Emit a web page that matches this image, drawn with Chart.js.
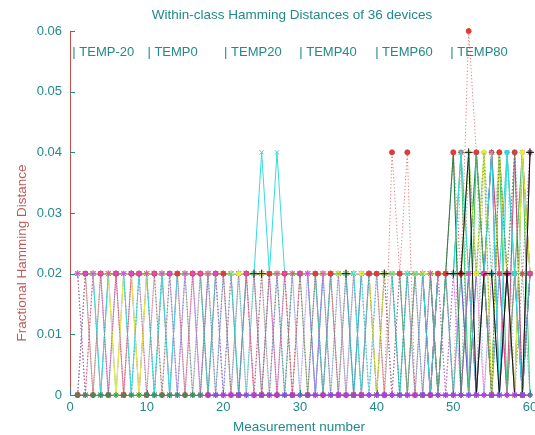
<!DOCTYPE html>
<html><head><meta charset="utf-8">
<script src="https://cdn.jsdelivr.net/npm/chart.js@4.4.1/dist/chart.umd.min.js"></script>
<style>html,body{margin:0;padding:0;background:#fff;}#wrap{width:535px;height:435px;position:relative;}</style>
</head><body><div id="wrap"><canvas id="c" width="535" height="435"></canvas></div>
<script>
const titleText = 'Within-class Hamming Distances of 36 devices';
const xTitle = 'Measurement number';
const yTitle = 'Fractional Hamming Distance';
const measurements = [1,2,3,4,5,6,7,8,9,10,11,12,13,14,15,16,17,18,19,20,21,22,23,24,25,26,27,28,29,30,31,32,33,34,35,36,37,38,39,40,41,42,43,44,45,46,47,48,49,50,51,52,53,54,55,56,57,58,59,60];
const tempLabels = ['| TEMP-20', '| TEMP0', '| TEMP20', '| TEMP40', '| TEMP60', '| TEMP80'];
const tempLabelAt = [0.3, 10.1, 20.1, 29.9, 39.8, 49.6];
const tempLabelY = 0.0565;
// measurements where the black '+' markers are visible
const blackMarked = [24, 25, 36, 41, 50, 51, 52, 55, 57, 60];

const devPu = [.02,.02,.02,.02,.02,.02,.02,.02,.02,.02, .02,.02,.02,.02,.02,.02,.02,0,0,0, 0,0,0,0,0,0,0,0,0,0, 0,0,0,0,0,0,0,0,0,0, 0,0,0,0,0,0,0,0,0,0, 0,0,0,0,0,0,0,0,0,0];
const devG = [0,0,0,0,0,0,0,0,0,0, 0,0,0,0,0,0,0,.02,0,.02, .02,0,.02,.02,0,.02,.02,0,.02,.02, 0,.02,.02,0,.02,.02,0,.02,.02,0, .02,.02,0,.02,.02,0,.02,.02,.02,.04, 0,.04,.02,.04,0,.04,.02,.04,0,.02];
const devK = [.02,.02,.02,.02,.02,.02,.02,.02,.02,.02, .02,.02,.02,.02,.02,.02,.02,.02,.02,.02, .02,.02,.02,.02,.02,.02,.02,.02,.02,.02, .02,.02,.02,.02,.02,.02,.02,.02,.02,.02, .02,.02,.02,.02,.02,.02,.02,.02,.02,.02, .02,.04,0,.02,.02,0,.02,0,0,.04];
const devMg = [.02,.02,.02,.02,.02,.02,.02,.02,.02,.02, .02,.02,.02,0,.02,.02,.02,.02,.02,0, 0,0,.02,0,0,0,.02,.02,.02,.02, .02,0,.02,0,0,0,0,0,0,0, 0,0,0,0,0,0,.02,0,0,0, 0,.02,0,.02,0,0,.02,0,0,.02];
const devC = [0,.02,0,.02,0,.02,0,.02,.02,0, .02,0,.02,.02,0,.02,.02,0,.02,.02, 0,0,.02,0,0,.02,0,.02,0,.02, 0,.02,0,.02,0,0,0,0,.02,.02, 0,.04,.02,.04,0,0,0,.02,.02,.04, .02,.06,.04,.02,0,.04,.02,.04,0,.02];
const devA = [.02,.02,.02,0,.02,.02,.02,0,.02,.02, 0,.02,0,.02,.02,.02,.02,0,.02,.02, .02,0,.02,.02,.04,.02,.04,.02,.02,.02, .02,.02,0,.02,.02,.02,.02,0,.02,.02, .02,.02,.02,.02,.02,.02,0,.02,.02,.02, .04,.02,0,.02,.04,0,.04,.02,0,.02];
const devB = [.02,.02,.02,.02,.02,0,.02,.02,0,.02, .02,.02,.02,.02,.02,.02,.02,.02,.02,.02, .02,.02,.02,.02,.02,.02,.02,.02,.02,.02, .02,.02,.02,.02,.02,.02,.02,.02,.02,0, .02,.02,.02,.02,.02,.02,.02,.02,.02,.02, .02,.04,.02,.04,0,.04,.02,0,.04,.02];
const devR3 = [.02,0,.02,0,.02,.02,0,.02,0,.02, 0,.02,0,.02,.02,0,.02,0,.02,.02, 0,.02,.02,0,.02,0,.02,.02,0,.02, .02,.02,0,.02,0,.02,.02,0,.02,0, .02,0,.02,.02,0,.02,.02,0,.02,0, .04,.02,0,.02,.04,.02,.02,0,.02,.04];
const devE = [0,.02,.02,0,.02,0,.02,.02,0,.02, 0,.02,.02,0,.02,0,.02,0,.02,.02, 0,.02,0,.02,.02,0,.02,0,.02,0, .02,.02,0,.02,0,.02,0,.02,0,.02, 0,.02,0,.02,0,.02,.02,0,.02,.02, .04,0,.02,.04,.02,0,.04,.02,0,.04];
const devD = [.02,0,.02,.02,0,.02,0,.02,.02,0, .02,.02,0,.02,0,.02,0,.02,.02,0, .02,0,.02,0,.02,.02,0,.02,0,.02, .02,0,.02,0,.02,.02,0,.02,.02,0, .02,0,.02,0,.02,0,.02,.02,0,.02, 0,.02,0,.02,0,.02,0,.02,0,.02];
const devR2 = [.02,.02,0,.02,.02,0,.02,0,.02,.02, 0,.02,.02,.02,0,.02,0,.02,.02,0, .02,0,.02,.02,0,.02,.02,0,.02,.02, 0,.02,0,.02,.02,0,.02,0,.02,.02, 0,.02,.02,0,.02,.02,0,.02,.02,0, .02,0,.02,.04,0,.02,0,.02,.04,.02];
const devM2 = [0,.02,.02,0,.02,.02,0,.02,0,.02, .02,0,.02,0,.02,.02,0,.02,0,.02, .02,.02,0,.02,0,.02,0,.02,.02,0, .02,0,.02,.02,0,.02,.02,0,.02,0, .02,.02,0,.02,0,.02,.02,0,.02,.02, 0,.02,.02,0,.02,0,.02,.02,0,.02];
const devC2 = [.02,0,.02,.02,0,.02,.02,0,.02,0, .02,.02,0,.02,.02,0,.02,.02,0,.02, 0,.02,.02,0,.02,.02,0,.02,0,.02, .02,0,.02,.02,0,.02,0,.02,.02,0, .02,0,.02,.02,0,.02,0,.02,0,.02, .02,.02,.04,0,.02,.04,0,.04,.02,0];
const devY2 = [.02,.02,0,.02,.02,.02,0,.02,.02,.02, .02,0,.02,.02,.02,.02,.02,0,.02,.02, .02,.02,.02,0,.02,.02,.02,.02,0,.02, .02,.02,.02,.02,0,.02,.02,.02,.02,.02, 0,.02,.02,.02,.02,.02,0,.02,.02,.02, .02,.02,0,.04,.02,.04,.02,0,.04,.02];
const devGN = [.02,.02,.02,.02,.02,.02,.02,.02,.02,.02, .02,.02,.02,.02,.02,.02,.02,.02,.02,.02, .02,.02,.02,.02,.02,.02,.02,.02,.02,.02, .02,.02,.02,.02,.02,.02,.02,.02,.02,.02, .02,.02,.02,0,.02,.02,.02,0,.02,.02, .04,0,.04,.02,0,.04,0,.02,.04,0];
const devDG = [.02,.02,.02,.02,.02,.02,.02,.02,.02,.02, .02,.02,.02,.02,.02,.02,.02,.02,.02,.02, .02,.02,.02,.02,.02,.02,.02,.02,.02,.02, .02,.02,.02,.02,.02,.02,.02,.02,.02,.02, .02,.02,.02,.02,.02,.02,.02,0,.02,.04, 0,.02,.04,.02,0,.04,.02,0,.04,.02];
const devBl = [.02,.02,.02,.02,.02,.02,.02,.02,.02,.02, .02,.02,.02,.02,.02,.02,.02,.02,.02,.02, .02,.02,.02,.02,.02,.02,.02,.02,.02,.02, .02,.02,.02,.02,.02,.02,.02,.02,.02,.02, .02,.02,.02,.02,.02,.02,0,.02,.02,.02, .02,0,.02,.02,.04,0,.02,.02,0,.02];
const devPK = [.02,.02,.02,.02,.02,.02,.02,.02,.02,.02, .02,.02,.02,.02,.02,.02,.02,.02,.02,.02, .02,.02,.02,.02,.02,.02,.02,.02,.02,.02, .02,.02,.02,.02,.02,.02,.02,.02,.02,.02, .02,.02,.02,.02,.02,.02,0,.02,.02,.02, .02,.02,0,.02,.04,.02,0,.04,0,.04];
const devE2 = [0,.02,0,.02,.02,0,.02,.02,0,.02, .02,0,.02,.02,0,.02,0,.02,.02,0, .02,.02,0,.02,.02,0,.02,0,.02,.02, 0,.02,.02,0,.02,0,.02,.02,0,.02, .02,.02,0,.02,0,.02,0,.02,.02,0, .02,0,.02,.04,.02,0,.04,.02,0,.02];
const devM3 = [.02,.02,0,.02,0,.02,.02,0,.02,.02, 0,.02,.02,0,.02,.02,0,.02,0,.02, .02,0,.02,.02,0,.02,0,.02,.02,0, .02,.02,0,.02,.02,0,.02,0,.02,.02, 0,.02,.02,0,.02,.02,0,.02,0,.02, .02,0,.02,0,.02,.02,0,.02,.02,0];
const devC3 = [.02,.02,.02,.02,.02,.02,.02,.02,.02,.02, .02,.02,.02,.02,.02,.02,.02,.02,.02,.02, .02,.02,.02,.02,.02,.02,.02,.02,.02,.02, .02,0,.02,.02,.02,.02,0,.02,.02,.02, .02,.02,0,.02,.02,.02,.02,.02,.02,0, .02,.04,.02,.02,0,.02,.04,.02,0,.02];
const devX1 = [.02,.02,0,0,.02,.02,0,.02,.02,0, 0,.02,.02,0,.02,0,0,.02,.02,0, .02,.02,0,.02,0,0,.02,.02,0,.02, 0,.02,.02,0,0,.02,.02,0,.02,.02, .02,0,0,.02,.02,0,.02,0,.02,.02, .04,.02,0,.02,.04,0,.02,.04,.02,0];
const devX2 = [0,0,.02,.02,0,.02,.02,0,0,.02, .02,.02,0,.02,.02,0,.02,.02,0,.02, 0,.02,.02,0,.02,.02,0,0,.02,.02, .02,0,.02,.02,0,.02,0,.02,0,.02, 0,.02,.02,.02,0,.02,0,.02,.02,0, .02,.04,.02,0,.02,.04,.02,0,.04,.02];
const devX3 = [.02,0,0,.02,.02,0,.02,0,.02,.02, .02,0,.02,0,.02,.02,.02,0,.02,0, .02,.02,0,.02,0,.02,.02,0,.02,0, 0,.02,0,.02,.02,.02,0,.02,0,.02, .02,0,.02,0,.02,.02,.02,0,.02,.02, 0,.02,.04,.02,0,.02,.04,0,.02,.04];
const devX4 = [.02,.02,.02,0,.02,0,.02,.02,0,.02, 0,.02,.02,.02,0,.02,.02,0,.02,.02, .02,0,.02,.02,.02,0,.02,.02,0,.02, .02,.02,0,.02,.02,0,.02,.02,.02,0, .02,.02,0,.02,.02,.02,0,.02,0,.02, .02,0,.04,.02,.02,0,.04,.02,0,.02];
const devX5 = [0,.02,.02,.02,0,.02,.02,.02,0,.02, .02,.02,0,.02,.02,.02,0,.02,.02,.02, 0,.02,.02,.02,0,.02,.02,0,.02,.02, .02,0,.02,.02,.02,0,.02,.02,0,.02, .02,.02,.02,0,.02,0,.02,.02,.02,0, .02,.02,0,.04,.02,.02,0,.02,.04,.02];

const seriesData = [devPu, devG, devK, devMg, devC, devA, devB, devR3, devE, devD, devR2, devM2, devC2, devY2, devGN, devDG, devBl, devPK, devE2, devM3, devC3, devX1, devX2, devX3, devX4, devX5];
const seriesStyle = [
  {color:'#9a44e6', dash:false, point:'star', r:3, show:'zero', fromX:18},
  {color:'#1f9e5a', dash:true,  point:'star', r:3, show:'zero'},
  {color:'#111111', dash:false, point:'cross', r:4, show:'black', fromX:49},
  {color:'#e448e0', dash:true,  point:'star', r:3},
  {color:'#e03a3a', dash:true,  point:'circle', r:2.5},
  {color:'#34dcdc', dash:false, point:'crossRot', r:3},
  {color:'#ecec3c', dash:false, point:'circle', r:2.2},
  {color:'#e04848', dash:true,  point:'star', r:3},
  {color:'#38d0d8', dash:true,  point:'circle', r:2},
  {color:'#e848e0', dash:true,  point:'star', r:3},
  {color:'#f07070', dash:true,  point:'circle', r:2},
  {color:'#e860e8', dash:true,  point:'star', r:3},
  {color:'#30c8d0', dash:true,  point:'crossRot', r:2.5},
  {color:'#e2da50', dash:true,  point:'circle', r:2},
  {color:'#36cc5a', dash:false, point:'circle', r:2},
  {color:'#0b7a3c', dash:false, point:'circle', r:2},
  {color:'#3a56dc', dash:false, point:'crossRot', r:2.5},
  {color:'#e0306e', dash:false, point:'circle', r:2},
  {color:'#40d4dc', dash:true,  point:'circle', r:2},
  {color:'#ee66dd', dash:true,  point:'star', r:2.5},
  {color:'#30d6d6', dash:false, point:'circle', r:2},
  {color:'#50c870', dash:true,  point:'circle', r:2},
  {color:'#f08cb0', dash:true,  point:'circle', r:2},
  {color:'#48c8e0', dash:true,  point:'crossRot', r:2.5},
  {color:'#f0a060', dash:true,  point:'circle', r:2},
  {color:'#5070e0', dash:true,  point:'star', r:2.5}
];

const FONT = '"Liberation Sans", Arial, Helvetica, sans-serif';
const TXT = '#22898a';
const AXIS = '#c85050';

const overlay = {
  id: 'overlay',
  afterDraw(chart) {
    const {ctx, chartArea: a} = chart;
    const x = chart.scales.x, y = chart.scales.y;
    ctx.save();
    ctx.strokeStyle = TXT; ctx.lineWidth = 1;
    ctx.beginPath();
    y.ticks.forEach(t => { const py = Math.round(y.getPixelForValue(t.value)) + 0.5; ctx.moveTo(a.left, py); ctx.lineTo(a.left + 5, py); });
    x.ticks.forEach(t => { const px = Math.round(x.getPixelForValue(t.value)) + 0.5; ctx.moveTo(px, a.bottom); ctx.lineTo(px, a.bottom - 5); });
    ctx.stroke();
    ctx.fillStyle = TXT;
    ctx.font = '13.5px ' + FONT;
    ctx.textAlign = 'center'; ctx.textBaseline = 'middle';
    ctx.fillText(titleText, 292, 15);
    ctx.fillText(xTitle, 299, 427);
    ctx.save();
    ctx.fillStyle = '#bf5a5a';
    ctx.translate(22, 253); ctx.rotate(-Math.PI / 2); ctx.fillText(yTitle, 0, 0);
    ctx.restore();
    ctx.font = '13px ' + FONT; ctx.textAlign = 'left';
    tempLabels.forEach((s, i) => ctx.fillText(s, x.getPixelForValue(tempLabelAt[i]), y.getPixelForValue(tempLabelY)));
    ctx.restore();
  }
};

const datasets = seriesData.map((d, i) => {
  const st = seriesStyle[i];
  const lineColor = st.dash ? st.color + 'b0' : st.color;
  let radius = st.r;
  if (st.show === 'zero') radius = d.map(v => (v === 0 ? st.r : 0));
  if (st.show === 'black') radius = measurements.map(m => (blackMarked.includes(m) ? st.r : 0));
  const ds = {
    data: d.map((v, j) => ({x: measurements[j], y: v})),
    borderColor: lineColor,
    backgroundColor: st.color,
    borderWidth: 1,
    borderDash: st.dash ? [1.2, 2.2] : [],
    pointStyle: st.point,
    pointRadius: radius,
    pointBorderWidth: 1,
    pointBorderColor: st.color,
    pointBackgroundColor: st.color,
    tension: 0,
    fill: false,
    clip: 8
  };
  if (st.fromX !== undefined) {
    ds.segment = {borderColor: c => (c.p0.parsed.x >= st.fromX ? lineColor : 'rgba(0,0,0,0)')};
  }
  return ds;
});

new Chart(document.getElementById('c'), {
  type: 'line',
  data: {datasets},
  options: {
    responsive: false,
    devicePixelRatio: 1,
    animation: false,
    events: [],
    layout: {padding: {top: 31, right: 5, left: 0, bottom: 0}},
    plugins: {legend: {display: false}, tooltip: {enabled: false}, title: {display: false}},
    scales: {
      x: {
        type: 'linear', min: 0, max: 60,
        ticks: {stepSize: 10, color: TXT, font: {family: FONT, size: 13}, padding: 5, maxRotation: 0},
        grid: {display: true, drawOnChartArea: false, drawTicks: false},
        border: {display: true, color: AXIS, width: 1},
        afterFit(s) { s.height = 40; s.paddingLeft = 0; s.paddingRight = 0; }
      },
      y: {
        type: 'linear', min: 0, max: 0.06,
        ticks: {stepSize: 0.01, color: TXT, font: {family: FONT, size: 13}, padding: 8,
          callback: v => (Math.abs(v) < 1e-9 ? '0' : v.toFixed(2))},
        grid: {display: true, drawOnChartArea: false, drawTicks: false},
        border: {display: true, color: AXIS, width: 1},
        afterFit(s) { s.width = 70; s.paddingTop = 0; s.paddingBottom = 0; }
      }
    }
  },
  plugins: [overlay]
});
</script>
</body></html>
